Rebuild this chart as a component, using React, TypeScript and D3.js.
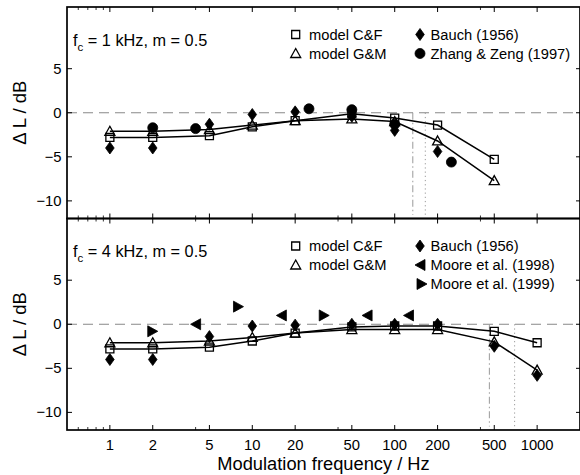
import * as d3 from "d3";

// model frequencies
const modelFreq1k = [1, 2, 5, 10, 20, 50, 100, 200, 500];
const modelFreq4k = [1, 2, 5, 10, 20, 50, 100, 200, 500, 1000];

// fc = 1 kHz
const cf1k = [-2.8, -2.8, -2.6, -1.6, -0.9, -0.1, -0.6, -1.4, -5.3];
const gm1k = [-2.1, -2.1, -1.9, -1.4, -0.9, -0.7, -1.0, -3.2, -7.7];
const bauchFreq1k = [1, 2, 5, 10, 20, 50, 100, 200];
const bauch1k = [-4.0, -4.0, -1.3, -0.2, 0.1, -0.4, -2.0, -4.4];
const zhangFreq = [2, 4, 25, 50, 100, 250];
const zhang1k = [-1.7, -1.8, 0.45, 0.35, -1.3, -5.6];

// fc = 4 kHz
const cf4k = [-2.8, -2.8, -2.6, -1.9, -1.0, -0.3, -0.2, -0.2, -0.8, -2.1];
const gm4k = [-2.1, -2.1, -1.9, -1.5, -1.0, -0.6, -0.6, -0.6, -2.0, -5.2];
const bauchFreq4k = [1, 2, 5, 10, 20, 50, 100, 200, 500, 1000];
const bauch4k = [-4.0, -4.0, -1.4, -0.2, -0.1, 0.0, 0.0, 0.0, -2.5, -5.8];
const moore98Freq = [4, 16, 64, 125];
const moore98 = [0.0, 1.0, 1.0, 1.0];
const moore99Freq = [2, 8, 32];
const moore99 = [-0.8, 2.0, 1.0];

// vertical reference lines (dash-dot, dotted)
const refLines1k = [134, 164];
const refLines4k = [462, 695];

const xMajor = [1, 2, 5, 10, 20, 50, 100, 200, 500, 1000];
const xMinor = [0.6, 0.7, 0.8, 0.9, 4, 40, 400];
const yTicks = [-10, -5, 0, 5];

const FONT = "'Liberation Sans', Arial, Helvetica, sans-serif";
const W = 580;
const H = 475;
const left = 67;
const right = 580;
const panelH = 211.5;

const x = d3.scaleLog().domain([0.5, 2000]).range([left, right]);

type Shape = "square" | "triangle" | "diamond" | "circle" | "tleft" | "tright";

function markerPath(shape: Shape, cx: number, cy: number) {
  const p = d3.path();
  if (shape === "square") {
    p.rect(cx - 4, cy - 4, 8, 8);
  } else if (shape === "triangle") {
    p.moveTo(cx, cy - 5);
    p.lineTo(cx + 5, cy + 4);
    p.lineTo(cx - 5, cy + 4);
    p.closePath();
  } else if (shape === "diamond") {
    p.moveTo(cx, cy - 6);
    p.lineTo(cx + 4.3, cy);
    p.lineTo(cx, cy + 6);
    p.lineTo(cx - 4.3, cy);
    p.closePath();
  } else if (shape === "circle") {
    p.arc(cx, cy, 5, 0, Math.PI * 2);
  } else if (shape === "tleft") {
    p.moveTo(cx - 5, cy);
    p.lineTo(cx + 5, cy - 5.5);
    p.lineTo(cx + 5, cy + 5.5);
    p.closePath();
  } else {
    p.moveTo(cx + 5, cy);
    p.lineTo(cx - 5, cy - 5.5);
    p.lineTo(cx - 5, cy + 5.5);
    p.closePath();
  }
  return p.toString();
}

function Marker({ shape, cx, cy, filled }: { shape: Shape; cx: number; cy: number; filled: boolean }) {
  return (
    <path
      d={markerPath(shape, cx, cy)}
      fill={filled ? "#000" : "none"}
      stroke="#000"
      strokeWidth={filled ? 0.8 : 1.3}
    />
  );
}

const panels = [
  {
    top: 7,
    fc: "1",
    models: [
      { f: modelFreq1k, v: cf1k, shape: "square" as Shape },
      { f: modelFreq1k, v: gm1k, shape: "triangle" as Shape },
    ],
    data: [
      { f: bauchFreq1k, v: bauch1k, shape: "diamond" as Shape },
      { f: zhangFreq, v: zhang1k, shape: "circle" as Shape },
    ],
    refs: refLines1k,
    legend: [
      { shape: "square" as Shape, filled: false, text: "model C&F", col: 0, row: 0 },
      { shape: "triangle" as Shape, filled: false, text: "model G&M", col: 0, row: 1 },
      { shape: "diamond" as Shape, filled: true, text: "Bauch (1956)", col: 1, row: 0 },
      { shape: "circle" as Shape, filled: true, text: "Zhang & Zeng (1997)", col: 1, row: 1 },
    ],
  },
  {
    top: 218.5,
    fc: "4",
    models: [
      { f: modelFreq4k, v: cf4k, shape: "square" as Shape },
      { f: modelFreq4k, v: gm4k, shape: "triangle" as Shape },
    ],
    data: [
      { f: bauchFreq4k, v: bauch4k, shape: "diamond" as Shape },
      { f: moore98Freq, v: moore98, shape: "tleft" as Shape },
      { f: moore99Freq, v: moore99, shape: "tright" as Shape },
    ],
    refs: refLines4k,
    legend: [
      { shape: "square" as Shape, filled: false, text: "model C&F", col: 0, row: 0 },
      { shape: "triangle" as Shape, filled: false, text: "model G&M", col: 0, row: 1 },
      { shape: "diamond" as Shape, filled: true, text: "Bauch (1956)", col: 1, row: 0 },
      { shape: "tleft" as Shape, filled: true, text: "Moore et al. (1998)", col: 1, row: 1 },
      { shape: "tright" as Shape, filled: true, text: "Moore et al. (1999)", col: 1, row: 2 },
    ],
  },
];

function Panel({ p, last }: { p: (typeof panels)[number]; last: boolean }) {
  const y = d3.scaleLinear().domain([-12, 12]).range([p.top + panelH, p.top]);
  const bottom = p.top + panelH;
  const line = d3
    .line<[number, number]>()
    .x((d) => x(d[0]))
    .y((d) => y(d[1]));
  const dashes = ["7 3 1.5 3", "1.2 3"];
  return (
    <g>
      {/* zero line */}
      <line x1={left} x2={right} y1={y(0)} y2={y(0)} stroke="#888" strokeWidth={1} strokeDasharray="10 6" />
      {/* reference lines */}
      {p.refs.map((f, i) => (
        <line
          key={i}
          x1={x(f)}
          x2={x(f)}
          y1={y(0)}
          y2={y(-11.6)}
          stroke="#999"
          strokeWidth={1}
          strokeDasharray={dashes[i]}
        />
      ))}
      {/* model curves */}
      {p.models.map((m, i) => (
        <path
          key={i}
          d={line(m.f.map((f, j) => [f, m.v[j]] as [number, number])) || ""}
          fill="none"
          stroke="#000"
          strokeWidth={1.5}
        />
      ))}
      {p.models.map((m, i) =>
        m.f.map((f, j) => <Marker key={`${i}-${j}`} shape={m.shape} cx={x(f)} cy={y(m.v[j])} filled={false} />)
      )}
      {p.data.map((s, i) =>
        s.f.map((f, j) => <Marker key={`d${i}-${j}`} shape={s.shape} cx={x(f)} cy={y(s.v[j])} filled={true} />)
      )}
      {/* frame */}
      <rect x={left} y={p.top} width={right - left} height={panelH} fill="none" stroke="#000" strokeWidth={1.7} />
      {/* x ticks top and bottom */}
      {xMajor.map((t) => (
        <g key={t}>
          <line x1={x(t)} x2={x(t)} y1={p.top} y2={p.top + 5} stroke="#000" strokeWidth={1} />
          <line x1={x(t)} x2={x(t)} y1={bottom} y2={bottom - 5} stroke="#000" strokeWidth={1} />
        </g>
      ))}
      {xMinor.map((t) => (
        <g key={t}>
          <line x1={x(t)} x2={x(t)} y1={p.top} y2={p.top + 3} stroke="#000" strokeWidth={0.8} />
          <line x1={x(t)} x2={x(t)} y1={bottom} y2={bottom - 3} stroke="#000" strokeWidth={0.8} />
        </g>
      ))}
      {/* y ticks */}
      {yTicks.map((t) => (
        <g key={t}>
          <line x1={left} x2={left + 5} y1={y(t)} y2={y(t)} stroke="#000" strokeWidth={1} />
          <line x1={right - 4} x2={right} y1={y(t)} y2={y(t)} stroke="#000" strokeWidth={1} />
          <text x={61.5} y={y(t) + 5} textAnchor="end" fontSize={14.8}>
            {t < 0 ? `\u2212${-t}` : t}
          </text>
        </g>
      ))}
      {last &&
        xMajor.map((t) => (
          <text key={t} x={x(t)} y={450} textAnchor="middle" fontSize={14.8}>
            {t}
          </text>
        ))}
      {/* panel label */}
      <text x={73} y={p.top + 38.5} fontSize={16.3}>
        f
        <tspan dy={5} fontSize={11.5}>
          c
        </tspan>
        <tspan dy={-5}>{` = ${p.fc} kHz, m = 0.5`}</tspan>
      </text>
      {/* legend */}
      {p.legend.map((l, i) => {
        const cy = p.top + 27.5 + l.row * 19;
        const mx = l.col === 0 ? 295.7 : l.shape === "tright" ? 422 : 420;
        const tx = l.col === 0 ? 309 : 430.5;
        return (
          <g key={i}>
            <Marker shape={l.shape} cx={mx} cy={cy} filled={l.filled} />
            <text x={tx} y={cy + 5.3} fontSize={14.7}>
              {l.text}
            </text>
          </g>
        );
      })}
      {/* y label */}
      <text
        transform={`translate(25.5,${(p.top + bottom) / 2}) rotate(-90)`}
        textAnchor="middle"
        fontSize={18.5}
      >
        {"\u0394 L / dB"}
      </text>
    </g>
  );
}

export default function App() {
  return (
    <svg
      width={W}
      height={H}
      viewBox={`0 0 ${W} ${H}`}
      style={{ position: "absolute", left: 0, top: 0, background: "#fff", fontFamily: FONT }}
    >
      <rect width={W} height={H} fill="#fff" />
      {panels.map((p, i) => (
        <Panel key={i} p={p} last={i === panels.length - 1} />
      ))}
      <text x={(left + right) / 2} y={470} textAnchor="middle" fontSize={18.3}>
        Modulation frequency / Hz
      </text>
    </svg>
  );
}
